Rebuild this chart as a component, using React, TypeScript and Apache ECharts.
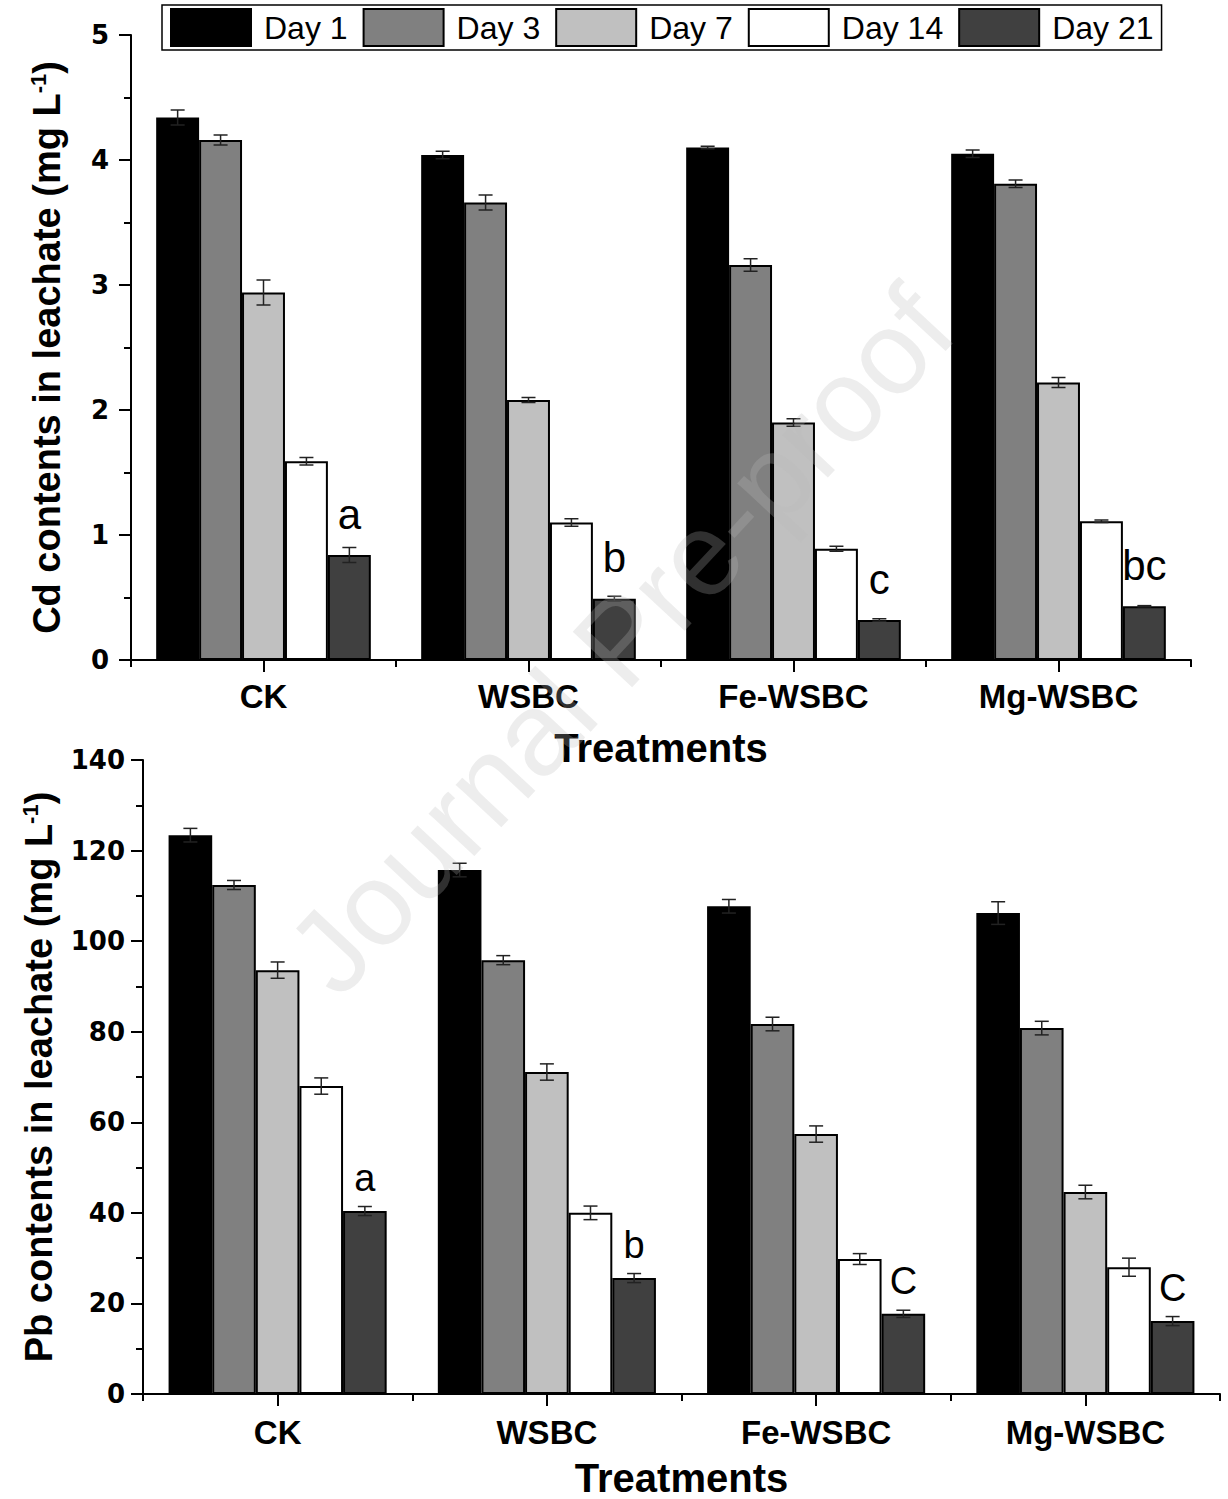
import React, { useEffect, useRef } from "react";
import * as echarts from "echarts";

const categories = ["CK", "WSBC", "Fe-WSBC", "Mg-WSBC"];
const days = ["Day 1", "Day 3", "Day 7", "Day 14", "Day 21"];
const dayColors = ["#000000", "#808080", "#c0c0c0", "#ffffff", "#404040"];

// Cd contents (mg L-1)
const cdDay1 = [4.34, 4.04, 4.1, 4.05];
const cdDay3 = [4.16, 3.66, 3.16, 3.81];
const cdDay7 = [2.94, 2.08, 1.9, 2.22];
const cdDay14 = [1.59, 1.1, 0.89, 1.11];
const cdDay21 = [0.84, 0.49, 0.32, 0.43];
const cdErr1 = [0.06, 0.03, 0.01, 0.03];
const cdErr3 = [0.04, 0.06, 0.05, 0.03];
const cdErr7 = [0.1, 0.02, 0.03, 0.04];
const cdErr14 = [0.03, 0.03, 0.02, 0.01];
const cdErr21 = [0.06, 0.02, 0.01, 0.005];
const cdLetters = ["a", "b", "c", "bc"];
const cdTicks = [0, 5, 1];

// Pb contents (mg L-1)
const pbDay1 = [123.4, 115.7, 107.7, 106.2];
const pbDay3 = [112.4, 95.8, 81.7, 80.8];
const pbDay7 = [93.6, 71.1, 57.4, 44.6];
const pbDay14 = [68.0, 40.0, 29.8, 28.0];
const pbDay21 = [40.4, 25.6, 17.7, 16.1];
const pbErr1 = [1.5, 1.5, 1.5, 2.5];
const pbErr3 = [1.0, 1.0, 1.5, 1.5];
const pbErr7 = [1.8, 1.8, 1.8, 1.5];
const pbErr14 = [1.8, 1.5, 1.2, 2.0];
const pbErr21 = [1.0, 1.0, 0.8, 1.0];
const pbLetters = ["a", "b", "C", "C"];
const pbTicks = [0, 140, 20];

const GAP = 0.19;
const SANS = "Liberation Sans, Arial, sans-serif";
const TICKFONT = "DejaVu Sans, sans-serif";

function buildSeries(
  xIdx: number,
  yIdx: number,
  vals: number[][],
  errs: number[][],
  letters: string[],
  letterSize: number,
  letterDist: number
) {
  const out: any[] = [];
  vals.forEach((arr, d) => {
    const s: any = {
      type: "bar",
      name: days[d],
      xAxisIndex: xIdx,
      yAxisIndex: yIdx,
      data: arr,
      barGap: "0%",
      barCategoryGap: GAP * 100 + "%",
      itemStyle: { color: dayColors[d], borderColor: "#000", borderWidth: 2 },
      z: 2,
    };
    if (d === vals.length - 1) {
      s.label = {
        show: true,
        position: "top",
        distance: letterDist,
        formatter: (p: any) => letters[p.dataIndex],
        fontSize: letterSize,
        fontFamily: SANS,
        color: "#000",
      };
    }
    out.push(s);
  });
  const errData: any[] = [];
  vals.forEach((arr, d) => {
    arr.forEach((v, ci) => errData.push([ci, v, errs[d][ci], d]));
  });
  out.push({
    type: "custom",
    xAxisIndex: xIdx,
    yAxisIndex: yIdx,
    z: 5,
    encode: { x: 0, y: 1 },
    data: errData,
    renderItem: (params: any, api: any) => {
      const ci = api.value(0);
      const v = api.value(1);
      const e = api.value(2);
      const d = api.value(3);
      const band = api.size([1, 0])[0];
      const group = band * (1 - GAP);
      const bw = group / 5;
      const c = api.coord([ci, v]);
      const x = c[0] - group / 2 + (d + 0.5) * bw;
      const yt = api.coord([ci, v + e])[1];
      const yb = api.coord([ci, v - e])[1];
      const cap = 7;
      const st = { stroke: "#222", lineWidth: 1.5 };
      return {
        type: "group",
        children: [
          { type: "line", shape: { x1: x, y1: yt, x2: x, y2: yb }, style: st },
          { type: "line", shape: { x1: x - cap, y1: yt, x2: x + cap, y2: yt }, style: st },
          { type: "line", shape: { x1: x - cap, y1: yb, x2: x + cap, y2: yb }, style: st },
        ],
      };
    },
  });
  return out;
}

function catAxis(gridIndex: number, nameGap: number, labelMargin: number) {
  return {
    type: "category",
    gridIndex,
    data: categories,
    name: "Treatments",
    nameLocation: "middle",
    nameGap,
    nameTextStyle: { fontSize: 40, fontWeight: "bold", fontFamily: SANS, color: "#000" },
    axisLine: { show: true, lineStyle: { color: "#000", width: 2 } },
    axisTick: { show: true, alignWithLabel: true, length: 12, lineStyle: { color: "#000", width: 2 } },
    axisLabel: { fontSize: 33, fontWeight: "bold", fontFamily: SANS, color: "#000", margin: labelMargin },
    splitLine: { show: false },
  };
}

function boundaryAxis(gridIndex: number) {
  return {
    type: "value",
    gridIndex,
    position: "bottom",
    min: 0,
    max: categories.length,
    interval: 1,
    axisLine: { show: false },
    axisTick: { show: true, length: 7, lineStyle: { color: "#000", width: 2 } },
    axisLabel: { show: false },
    splitLine: { show: false },
  };
}

function valAxis(gridIndex: number, ticks: number[], name: string, nameGap: number, margin: number) {
  return {
    type: "value",
    gridIndex,
    min: ticks[0],
    max: ticks[1],
    interval: ticks[2],
    name,
    nameLocation: "middle",
    nameGap,
    nameTextStyle: {
      fontSize: 38,
      fontWeight: "bold",
      fontFamily: SANS,
      color: "#000",
      rich: {
        sup: { fontSize: 22, fontWeight: "bold", fontFamily: SANS, verticalAlign: "top", padding: [0, 0, 18, 0] },
      },
    },
    axisLine: { show: true, lineStyle: { color: "#000", width: 2 } },
    axisTick: { show: true, length: 12, lineStyle: { color: "#000", width: 2 } },
    minorTick: { show: true, splitNumber: 2, length: 7, lineStyle: { color: "#000", width: 2 } },
    axisLabel: { fontSize: 26, fontWeight: "bold", fontFamily: TICKFONT, color: "#000", margin },
    splitLine: { show: false },
  };
}

export default function App() {
  const ref = useRef<HTMLDivElement>(null);
  useEffect(() => {
    if (!ref.current) return;
    const chart = echarts.init(ref.current, undefined, { renderer: "svg" });
    const option: any = {
      animation: false,
      backgroundColor: "#fff",
      legend: {
        data: days,
        left: 162,
        top: 5,
        itemWidth: 80,
        itemHeight: 37,
        itemGap: 15,
        padding: [3, 8],
        borderColor: "#000",
        borderWidth: 1.5,
        selectedMode: false,
        icon: "rect",
        textStyle: { fontSize: 32, fontFamily: SANS, color: "#000", padding: [0, 0, 0, 8] },
      },
      grid: [
        { left: 131, right: 37, top: 35, height: 625 },
        { left: 143, right: 8, top: 760, height: 634 },
      ],
      xAxis: [catAxis(0, 68, 20), boundaryAxis(0), catAxis(1, 64, 22), boundaryAxis(1)],
      yAxis: [
        valAxis(0, cdTicks, "Cd contents in leachate (mg L{sup|-1})", 64, 22),
        valAxis(1, pbTicks, "Pb contents in leachate (mg L{sup|-1})", 84, 18),
      ],
      series: [
        ...buildSeries(
          0,
          0,
          [cdDay1, cdDay3, cdDay7, cdDay14, cdDay21],
          [cdErr1, cdErr3, cdErr7, cdErr14, cdErr21],
          cdLetters,
          42,
          20
        ),
        ...buildSeries(
          2,
          1,
          [pbDay1, pbDay3, pbDay7, pbDay14, pbDay21],
          [pbErr1, pbErr3, pbErr7, pbErr14, pbErr21],
          pbLetters,
          38,
          14
        ),
      ],
      graphic: [
        {
          type: "text",
          x: 620,
          y: 640,
          rotation: (47 * Math.PI) / 180,
          z: 100,
          silent: true,
          style: {
            text: "Journal Pre-proof",
            fontSize: 118,
            fontFamily: SANS,
            fill: "rgba(185,185,185,0.26)",
            align: "center",
            verticalAlign: "middle",
          },
        },
      ],
    };
    chart.setOption(option);
    return () => chart.dispose();
  }, []);
  return (
    <div
      ref={ref}
      style={{ position: "absolute", left: 0, top: 0, width: 1228, height: 1499, background: "#fff" }}
    />
  );
}
